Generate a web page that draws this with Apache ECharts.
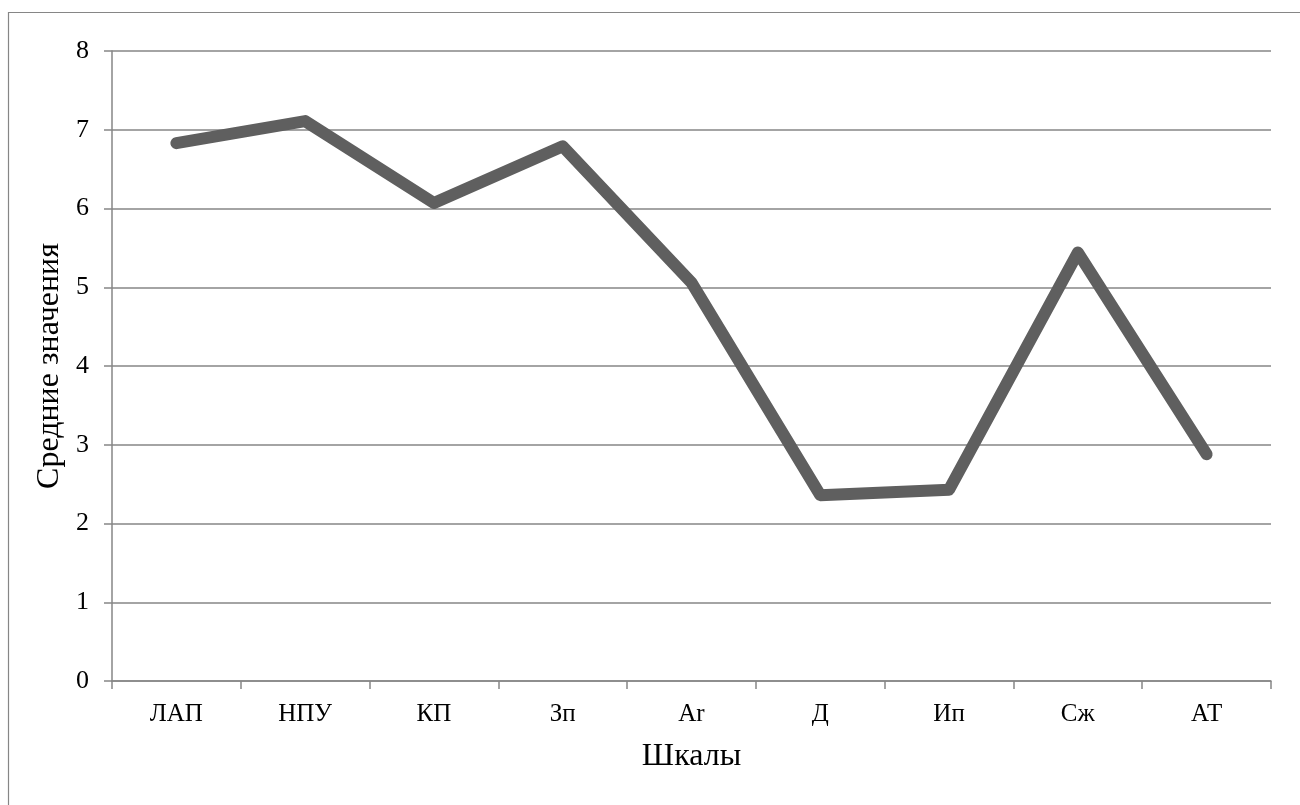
<!DOCTYPE html>
<html><head><meta charset="utf-8">
<script src="https://cdn.jsdelivr.net/npm/echarts@6/dist/echarts.min.js"></script>
<style>html,body{margin:0;padding:0;background:#fff}#c{width:1300px;height:805px}</style>
</head><body><div id="c"></div>
<script>
const categories = ['ЛАП','НПУ','КП','Зп','Ar','Д','Ип','Сж','АТ'];
const values = [6.83, 7.11, 6.07, 6.79, 5.06, 2.36, 2.43, 5.44, 2.88];
const yTicks = [0,1,2,3,4,5,6,7,8];
const font = '"Liberation Serif","Times New Roman",serif';
const chart = echarts.init(document.getElementById('c'));
chart.setOption({
  animation:false,
  graphic:[{type:'rect',shape:{x:8.5,y:12.5,width:1400,height:900},style:{fill:'none',stroke:'#868686',lineWidth:1.2},silent:true}],
  grid:{left:112,right:29,top:51,bottom:124},
  xAxis:{type:'category',data:categories,boundaryGap:true,
    axisLine:{lineStyle:{color:'#868686',width:1.5}},
    axisTick:{show:true,length:8,lineStyle:{color:'#868686',width:1.5}},
    axisLabel:{color:'#000',fontFamily:font,fontSize:25,margin:21},
    name:'Шкалы',nameLocation:'middle',nameGap:60,
    nameTextStyle:{color:'#000',fontFamily:font,fontSize:32}},
  yAxis:{type:'value',min:yTicks[0],max:yTicks[yTicks.length-1],interval:1,
    axisLine:{show:true,lineStyle:{color:'#868686',width:1.5}},
    axisTick:{show:true,length:8,lineStyle:{color:'#868686',width:1.5}},
    axisLabel:{color:'#000',fontFamily:font,fontSize:26,margin:23},
    splitLine:{lineStyle:{color:'#868686',width:1.5}},
    name:'Средние значения',nameLocation:'middle',nameGap:44,
    nameTextStyle:{color:'#000',fontFamily:font,fontSize:32}},
  series:[{type:'line',data:values,symbol:'none',
    lineStyle:{color:'#5f5f5f',width:12,cap:'round',join:'round'}}]
});
</script></body></html>
